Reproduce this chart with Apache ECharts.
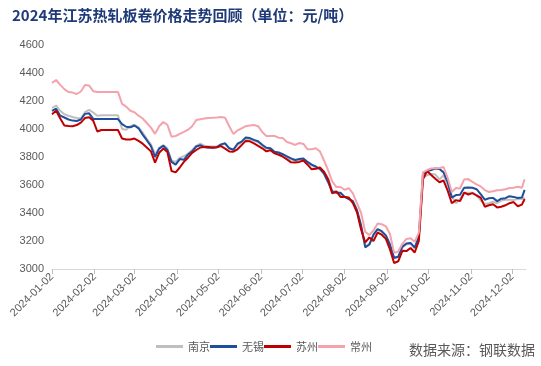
<!DOCTYPE html>
<html><head><meta charset="utf-8">
<script src="https://cdn.jsdelivr.net/npm/echarts@6/dist/echarts.min.js"></script>
<style>html,body{margin:0;padding:0;background:#fff}#c{width:541px;height:366px}</style>
</head><body><div id="c"></div>
<script>
const titleText = '2024年江苏热轧板卷价格走势回顾（单位：元/吨）';
const sourceText = '数据来源：钢联数据';
const seriesNames = ['南京', '无锡', '苏州', '常州'];
const tickDates = ['2024-01-02','2024-02-02','2024-03-02','2024-04-02','2024-05-02','2024-06-02','2024-07-02','2024-08-02','2024-09-02','2024-10-02','2024-11-02','2024-12-02'];
const yTicks = [3000, 3200, 3400, 3600, 3800, 4000, 4200, 4400, 4600];
const dates = [
'2024-01-02','2024-01-05','2024-01-08','2024-01-11','2024-01-14','2024-01-17','2024-01-20','2024-01-23','2024-01-26','2024-01-29',
'2024-02-01','2024-02-04','2024-02-07','2024-02-10','2024-02-13','2024-02-16','2024-02-19','2024-02-22','2024-02-25','2024-02-28',
'2024-03-02','2024-03-05','2024-03-08','2024-03-11','2024-03-14','2024-03-17','2024-03-20','2024-03-23','2024-03-26','2024-03-29',
'2024-04-01','2024-04-04','2024-04-07','2024-04-10','2024-04-13','2024-04-16','2024-04-19','2024-04-22','2024-04-25','2024-04-28',
'2024-05-01','2024-05-04','2024-05-07','2024-05-10','2024-05-13','2024-05-16','2024-05-19','2024-05-22','2024-05-25','2024-05-28',
'2024-05-31','2024-06-03','2024-06-06','2024-06-09','2024-06-12','2024-06-15','2024-06-18','2024-06-21','2024-06-24','2024-06-27',
'2024-06-30','2024-07-03','2024-07-06','2024-07-09','2024-07-12','2024-07-15','2024-07-18','2024-07-21','2024-07-24','2024-07-27',
'2024-07-30','2024-08-02','2024-08-05','2024-08-08','2024-08-11','2024-08-14','2024-08-17','2024-08-20','2024-08-23','2024-08-26',
'2024-08-29','2024-09-01','2024-09-04','2024-09-07','2024-09-10','2024-09-13','2024-09-16','2024-09-19','2024-09-22','2024-09-25',
'2024-09-28','2024-10-01','2024-10-04','2024-10-07','2024-10-10','2024-10-13','2024-10-16','2024-10-19','2024-10-22','2024-10-25',
'2024-10-28','2024-10-31','2024-11-03','2024-11-06','2024-11-09','2024-11-12','2024-11-15','2024-11-18','2024-11-21','2024-11-24',
'2024-11-27','2024-11-30','2024-12-03','2024-12-06','2024-12-09','2024-12-11'
];
const nanjing = [
4150,4168,4130,4105,4095,4086,4078,4075,4120,4136,
4118,4095,4098,4098,4098,4098,4098,4000,3995,4020,
4030,4012,3975,3930,3890,3820,3865,3885,3860,3775,
3765,3795,3805,3825,3850,3880,3895,3880,3875,3875,
3875,3885,3895,3865,3850,3885,3905,3930,3925,3915,
3905,3880,3860,3855,3832,3825,3812,3798,3782,3772,
3778,3782,3760,3738,3725,3712,3690,3650,3560,3550,
3540,3515,3505,3480,3415,3300,3160,3180,3240,3280,
3265,3235,3170,3075,3085,3155,3175,3180,3148,3225,
3650,3670,3680,3675,3640,3670,3600,3520,3470,3500,
3545,3545,3545,3530,3490,3465,3470,3480,3470,3490,
3495,3495,3492,3500,3500,3510
];
const wuxi = [
4130,4145,4095,4082,4068,4060,4057,4068,4108,4112,
4072,4071,4071,4071,4071,4071,4071,4035,4016,4012,
4025,4005,3960,3920,3878,3800,3860,3880,3850,3765,
3745,3785,3780,3818,3840,3875,3884,3870,3866,3868,
3870,3890,3898,3862,3852,3895,3910,3940,3935,3922,
3912,3888,3866,3862,3838,3832,3820,3805,3790,3779,
3785,3790,3765,3745,3732,3715,3680,3620,3550,3545,
3545,3515,3500,3485,3420,3310,3155,3175,3245,3285,
3270,3240,3175,3080,3088,3160,3182,3186,3152,3230,
3680,3700,3707,3718,3714,3690,3620,3510,3528,3530,
3580,3582,3580,3570,3535,3495,3505,3508,3485,3502,
3506,3520,3515,3507,3510,3565
];
const suzhou = [
4105,4130,4075,4025,4022,4020,4028,4045,4078,4084,
4060,3982,3993,3993,3993,3993,3993,3932,3925,3925,
3932,3915,3895,3868,3840,3760,3830,3860,3835,3700,
3690,3725,3765,3795,3829,3850,3868,3871,3871,3866,
3870,3878,3860,3840,3838,3855,3885,3915,3912,3898,
3880,3862,3840,3848,3826,3816,3802,3783,3762,3760,
3765,3775,3745,3712,3716,3725,3695,3640,3540,3555,
3515,3514,3510,3471,3405,3280,3190,3225,3200,3260,
3245,3215,3140,3043,3055,3130,3128,3150,3118,3200,
3640,3700,3672,3645,3620,3632,3560,3470,3492,3485,
3545,3532,3542,3525,3510,3445,3455,3462,3440,3445,
3455,3470,3478,3448,3460,3500
];
const changzhou = [
4330,4350,4315,4285,4264,4260,4250,4268,4314,4310,
4270,4265,4265,4265,4265,4265,4265,4180,4160,4130,
4120,4095,4075,4043,4010,3965,4020,4050,4030,3945,
3950,3965,3979,3995,4020,4064,4070,4075,4079,4080,
4082,4086,4080,4020,3965,3990,4005,4020,4025,4029,
4020,3979,3950,3950,3950,3938,3935,3907,3898,3886,
3900,3893,3855,3855,3862,3840,3775,3705,3625,3585,
3586,3566,3577,3540,3470,3400,3265,3243,3275,3325,
3320,3305,3250,3115,3125,3180,3215,3220,3195,3260,
3690,3707,3718,3720,3722,3728,3650,3550,3578,3575,
3640,3642,3622,3605,3590,3564,3550,3555,3562,3565,
3570,3579,3580,3588,3580,3640
];
const colors = ['#BFBFBF', '#1F4E9C', '#C00000', '#F4A3AD'];
const values = [nanjing, wuxi, suzhou, changzhou];

function localTs(s) { const p = s.split('-').map(Number); return new Date(p[0], p[1] - 1, p[2]).getTime(); }
function fmt(v) { const d = new Date(v); const m = d.getMonth() + 1, dd = d.getDate(); return d.getFullYear() + '-' + (m < 10 ? '0' : '') + m + '-' + (dd < 10 ? '0' : '') + dd; }
const tickTs = tickDates.map(localTs);
const dateTs = dates.map(localTs);

const chart = echarts.init(document.getElementById('c'), null, { renderer: 'canvas' });
chart.setOption({
  animation: false,
  backgroundColor: '#fff',
  title: {
    text: titleText, left: 7, top: 3,
    textStyle: { fontFamily: 'Noto Sans CJK SC', fontSize: 15, fontWeight: 'bold', color: '#1F3A78' }
  },
  graphic: [{
    type: 'text', right: 6, top: 343,
    style: { text: sourceText, fontFamily: 'Noto Sans CJK SC', fontSize: 14, fill: '#595959' }
  }],
  legend: {
    data: seriesNames, bottom: 9, left: 151,
    icon: 'rect', itemWidth: 27, itemHeight: 3, itemGap: 0,
    textStyle: { fontFamily: 'Noto Sans CJK SC', fontSize: 11, color: '#595959' }
  },
  grid: { left: 52, right: 15, top: 45, bottom: 97, containLabel: false },
  xAxis: {
    type: 'value',
    min: localTs('2024-01-02'), max: localTs('2024-12-12'),
    axisLine: { show: true, lineStyle: { color: '#D9D9D9', width: 1 } },
    axisTick: { show: true, customValues: tickTs, length: 5, lineStyle: { color: '#BFBFBF' } },
    axisLabel: {
      customValues: tickTs, rotate: 45, hideOverlap: false, margin: 6,
      showMinLabel: true, showMaxLabel: true,
      formatter: function (v) { return fmt(v); },
      fontFamily: 'Liberation Sans', fontSize: 11, color: '#595959'
    },
    splitLine: { show: false }
  },
  yAxis: {
    type: 'value', min: yTicks[0], max: yTicks[yTicks.length - 1], interval: 200,
    axisLine: { show: false }, axisTick: { show: false }, splitLine: { show: false },
    axisLabel: { fontFamily: 'Liberation Sans', fontSize: 11, color: '#595959', margin: 8,
      formatter: function (v) { return String(v); } }
  },
  series: seriesNames.map(function (n, k) {
    return {
      name: n, type: 'line', symbol: 'none', smooth: false,
      data: dateTs.map(function (t, i) { return [t, values[k][i]]; }),
      lineStyle: { width: 2, color: colors[k] }, itemStyle: { color: colors[k] }
    };
  })
});
</script></body></html>
